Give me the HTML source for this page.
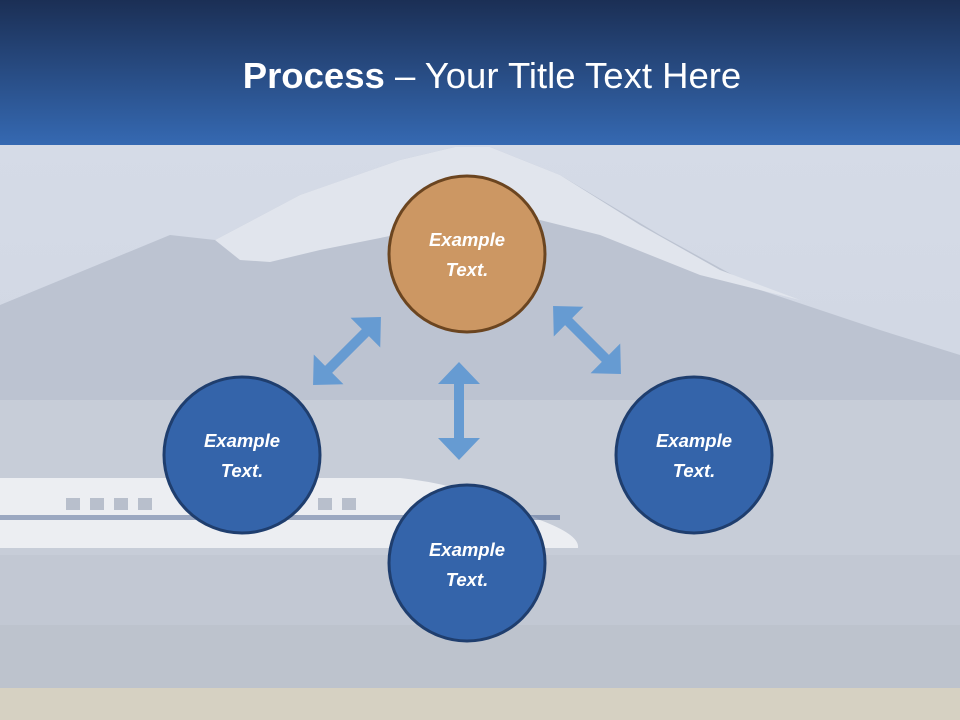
<!DOCTYPE html>
<html><head><meta charset="utf-8"><style>
html,body{margin:0;padding:0;width:960px;height:720px;overflow:hidden;font-family:"Liberation Sans",sans-serif;}
</style></head><body>
<svg width="960" height="720" viewBox="0 0 960 720" xmlns="http://www.w3.org/2000/svg">
<defs>
<linearGradient id="hd" x1="0" y1="0" x2="0" y2="1">
<stop offset="0" stop-color="#1b2f55"/><stop offset="1" stop-color="#3569b2"/>
</linearGradient>
<linearGradient id="sky" x1="0" y1="0" x2="0" y2="1">
<stop offset="0" stop-color="#d5dbe7"/><stop offset="1" stop-color="#ccd2de"/>
</linearGradient>
</defs>
<rect x="0" y="145" width="960" height="575" fill="url(#sky)"/>
<!-- mountain -->
<polygon points="0,305 170,235 215,240 300,195 400,160 455,147 490,147 560,175 660,235 760,290 880,330 960,355 960,420 0,420" fill="#bcc3d1"/>
<polygon points="215,240 300,195 400,160 455,147 490,147 560,175 640,225 720,270 800,300 700,275 600,235 560,225 520,215 470,215 420,230 370,240 320,250 270,262 240,260" fill="#e1e5ed"/>
<rect x="0" y="400" width="960" height="290" fill="#c7cdd8"/>
<rect x="0" y="555" width="960" height="135" fill="#c2c8d3"/>
<rect x="0" y="625" width="960" height="65" fill="#bdc3cd"/>
<!-- train -->
<path d="M0,478 L400,478 Q470,485 540,520 Q580,535 578,548 L0,548 Z" fill="#eceef2"/>
<rect x="0" y="515" width="560" height="5" fill="#4a6290" opacity="0.5"/>
<g fill="#b8bfcc">
<rect x="66" y="498" width="14" height="12"/><rect x="90" y="498" width="14" height="12"/><rect x="114" y="498" width="14" height="12"/><rect x="138" y="498" width="14" height="12"/><rect x="318" y="498" width="14" height="12"/><rect x="342" y="498" width="14" height="12"/>
</g>
<rect x="0" y="688" width="960" height="32" fill="#d6d1c2"/>
<!-- header -->
<rect x="0" y="0" width="960" height="145" fill="url(#hd)"/>
<text x="492" y="88" text-anchor="middle" font-size="36.5" fill="#fff" font-family="Liberation Sans, sans-serif"><tspan font-weight="bold">Process</tspan> – Your Title Text Here</text>
<!-- arrows -->
<g fill="#669bd2">
<polygon points="459,362 480,384 464,384 464,438 480,438 459,460 438,438 454,438 454,384 438,384"/>
<g transform="translate(347,351) rotate(-45)">
<polygon points="-48,0 -26,-21 -26,-5 26,-5 26,-21 48,0 26,21 26,5 -26,5 -26,21"/>
</g>
<g transform="translate(587,340) rotate(45)">
<polygon points="-48,0 -26,-21 -26,-5 26,-5 26,-21 48,0 26,21 26,5 -26,5 -26,21"/>
</g>
</g>
<!-- circles -->
<g font-family="Liberation Sans, sans-serif" font-style="italic" font-weight="bold" font-size="18.5" fill="#fff" text-anchor="middle">
<circle cx="467" cy="254" r="78" fill="#cc9763" stroke="#6b4520" stroke-width="3"/>
<text x="467" y="246">Example</text><text x="467" y="276">Text.</text>
<circle cx="242" cy="455" r="78" fill="#3464aa" stroke="#1f3e6e" stroke-width="3"/>
<text x="242" y="447">Example</text><text x="242" y="477">Text.</text>
<circle cx="694" cy="455" r="78" fill="#3464aa" stroke="#1f3e6e" stroke-width="3"/>
<text x="694" y="447">Example</text><text x="694" y="477">Text.</text>
<circle cx="467" cy="563" r="78" fill="#3464aa" stroke="#1f3e6e" stroke-width="3"/>
<text x="467" y="556">Example</text><text x="467" y="586">Text.</text>
</g>
</svg>
</body></html>
